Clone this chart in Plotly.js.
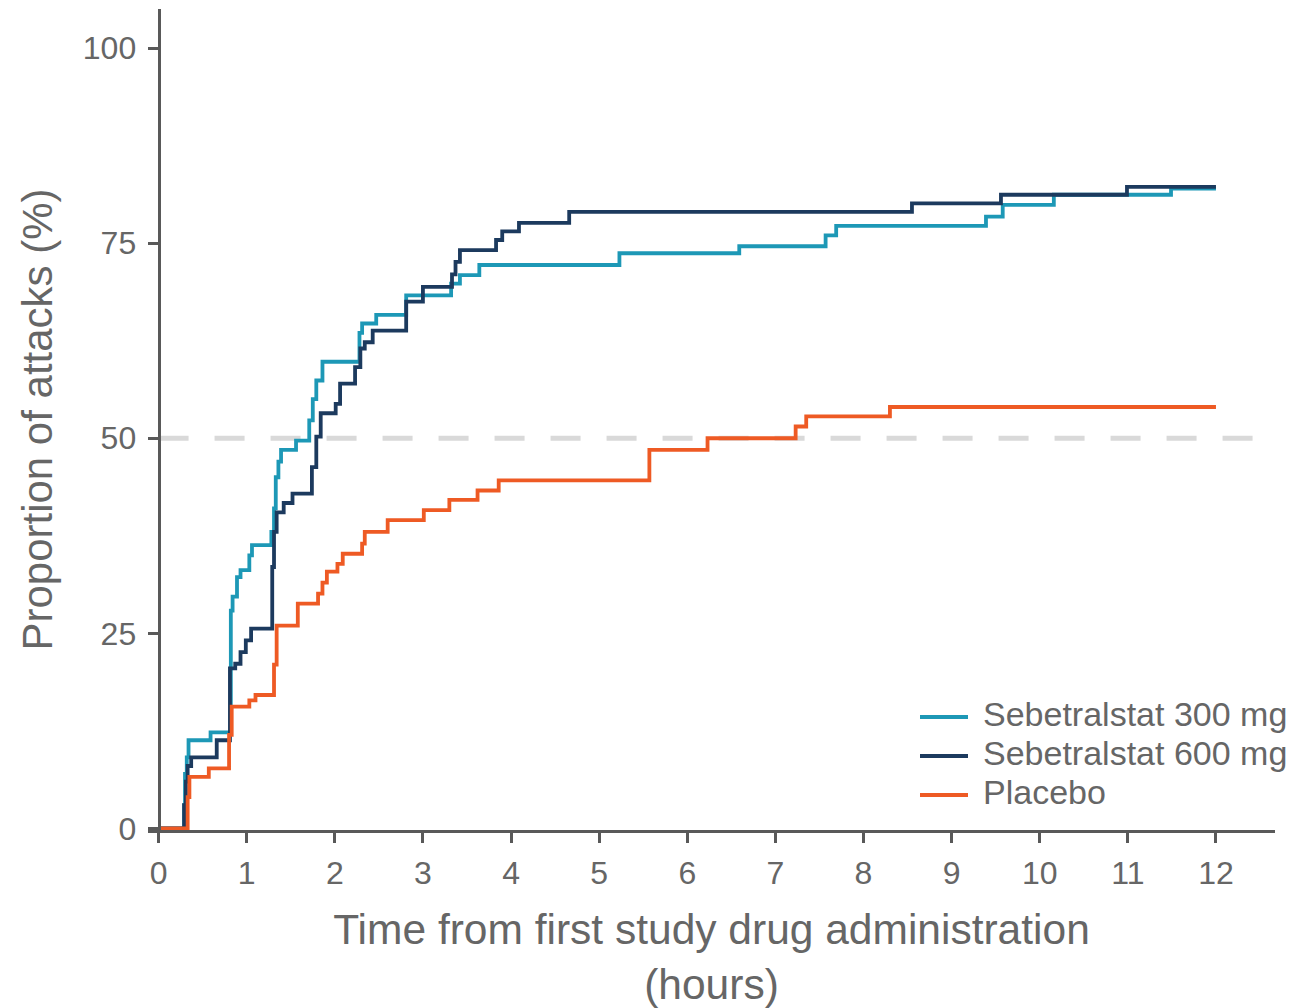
<!DOCTYPE html>
<html>
<head>
<meta charset="utf-8">
<script src="https://cdn.plot.ly/plotly-3.0.1.min.js"></script>
<style>
  html, body { margin: 0; padding: 0; background: #ffffff; }
  #chart { width: 1306px; height: 1008px; }
</style>
</head>
<body>
<div id="chart"></div>
<script>
// ---- Data ----
const seriesNames = ["Sebetralstat 300 mg", "Sebetralstat 600 mg", "Placebo"];

// Sebetralstat 300 mg: time (hours) at which each step occurs, and proportion (%)
const time300 = [0, 0.29, 0.30, 0.32, 0.34, 0.59, 0.82, 0.84, 0.89, 0.93, 1.03, 1.06,
  1.28, 1.31, 1.33, 1.36, 1.39, 1.56, 1.71, 1.75, 1.79, 1.86, 2.28, 2.31, 2.47, 2.81,
  3.32, 3.42, 3.64, 5.23, 6.59, 7.57, 7.69, 9.39, 9.58, 10.16, 11.49, 12.0];
const prop300 = [0, 3, 7, 9.1, 11.3, 12.3, 27.9, 29.7, 32.2, 33.1, 35.0, 36.3,
  38, 41, 45, 47, 48.5, 49.7, 52.3, 55, 57.4, 59.8, 63.5, 64.7, 65.8, 68.3,
  69.8, 70.9, 72.2, 73.7, 74.6, 76.0, 77.2, 78.4, 79.9, 81.2, 82.0, 82.0];

// Sebetralstat 600 mg
const time600 = [0, 0.29, 0.31, 0.33, 0.37, 0.66, 0.81, 0.87, 0.93, 0.99, 1.05,
  1.29, 1.31, 1.34, 1.42, 1.52, 1.74, 1.79, 1.84, 2.01, 2.06, 2.23, 2.29, 2.34, 2.43,
  2.81, 3.00, 3.33, 3.37, 3.42, 3.83, 3.90, 4.09, 4.66, 8.55, 9.56, 10.99, 12.0];
const prop600 = [0, 3, 6, 8, 9.1, 11.3, 20.5, 21.1, 22.6, 24.1, 25.6,
  33.5, 38, 40.5, 41.7, 42.9, 46.3, 50.2, 53.2, 54.4, 57.0, 59.1, 61.5, 62.3, 63.8,
  67.5, 69.4, 71.0, 72.6, 74.1, 75.4, 76.5, 77.6, 79.0, 80.1, 81.2, 82.2, 82.2];

// Placebo
const timePbo = [0, 0.33, 0.35, 0.57, 0.80, 0.83, 1.03, 1.10, 1.31, 1.34, 1.58,
  1.81, 1.86, 1.91, 2.03, 2.09, 2.31, 2.34, 2.60, 3.01, 3.30, 3.62, 3.86, 5.57,
  6.23, 7.23, 7.35, 8.30, 12.0];
const propPbo = [0, 4, 6.6, 7.7, 12, 15.6, 16.4, 17.1, 21, 26.0, 28.8,
  30.1, 31.5, 32.9, 33.9, 35.2, 36.5, 38.0, 39.5, 40.8, 42.1, 43.3, 44.6, 48.5,
  50.0, 51.5, 52.8, 54.0, 54.0];

const xTickVals = [0, 1, 2, 3, 4, 5, 6, 7, 8, 9, 10, 11, 12];
const yTickVals = [0, 25, 50, 75, 100];
const refLevel = 50;      // dashed 50% reference
const refEnd = 12.5;      // where the dashed line stops (hours)

// ---- Styling ----
const colors = ["#1d98b6", "#1c3a5e", "#ee5a24"];
const axisColor = "#595959";
const textColor = "#666666";
const xRange = [-0.12, 12.67];
const yRange = [-0.2, 105];

const W = 1306, H = 1008;
const margin = {l: 148, r: 31, t: 9, b: 178};
const plotW = W - margin.l - margin.r;
const plotH = H - margin.t - margin.b;
// pixel -> paper helpers for the hand-placed legend
const px2paperX = px => (px - margin.l) / plotW;
const px2paperY = py => (H - margin.b - py) / plotH;

const series = [
  {x: time300, y: prop300},
  {x: time600, y: prop600},
  {x: timePbo, y: propPbo}
];

const traces = series.map((s, i) => ({
  type: "scatter",
  mode: "lines",
  name: seriesNames[i],
  x: s.x,
  y: s.y,
  line: {shape: "hv", color: colors[i], width: 3.8},
  hoverinfo: "skip",
  showlegend: false
}));

// Legend (compact, like the reference)
const legendLineY = [717, 756, 795];
const legendShapes = seriesNames.map((n, i) => ({
  type: "line", xref: "paper", yref: "paper",
  x0: px2paperX(920), x1: px2paperX(968),
  y0: px2paperY(legendLineY[i]), y1: px2paperY(legendLineY[i]),
  line: {color: colors[i], width: 4}
}));
const legendAnnots = seriesNames.map((n, i) => ({
  xref: "paper", yref: "paper",
  x: px2paperX(981), y: px2paperY(legendLineY[i] - 3),
  xanchor: "left", yanchor: "middle",
  text: n, showarrow: false,
  font: {size: 34, color: textColor}
}));

const layout = {
  width: W,
  height: H,
  paper_bgcolor: "#ffffff",
  plot_bgcolor: "#ffffff",
  margin: margin,
  font: {family: "Liberation Sans, Arial, sans-serif", color: textColor},
  showlegend: false,
  xaxis: {
    range: xRange,
    tickmode: "array",
    tickvals: xTickVals,
    ticktext: xTickVals.map(String),
    showgrid: false,
    zeroline: false,
    showline: true,
    linecolor: axisColor,
    linewidth: 3,
    ticks: "outside",
    ticklen: 10,
    tickwidth: 3,
    tickcolor: axisColor,
    ticklabelstandoff: 3,
    tickfont: {size: 32, color: textColor},
    title: {
      text: "Time from first study drug administration<br>(hours)",
      font: {size: 42.5, color: textColor},
      standoff: 37
    }
  },
  yaxis: {
    range: yRange,
    anchor: "free",
    position: (0 - xRange[0]) / (xRange[1] - xRange[0]),
    tickmode: "array",
    tickvals: yTickVals,
    ticktext: yTickVals.map(String),
    showgrid: false,
    zeroline: false,
    showline: true,
    linecolor: axisColor,
    linewidth: 3,
    ticks: "outside",
    ticklen: 10,
    tickwidth: 3,
    tickcolor: axisColor,
    ticklabelstandoff: 5,
    tickfont: {size: 32, color: textColor},
    title: {
      text: "Proportion of attacks (%)",
      font: {size: 42, color: textColor},
      standoff: 16
    }
  },
  shapes: [{
    type: "line",
    xref: "x", yref: "y",
    x0: 0, x1: refEnd, y0: refLevel, y1: refLevel,
    line: {color: "#d9d9d9", width: 5, dash: "30px,26px"},
    layer: "below"
  }].concat(legendShapes),
  annotations: legendAnnots
};

Plotly.newPlot("chart", traces, layout, {displayModeBar: false, staticPlot: true});
</script>
</body>
</html>
